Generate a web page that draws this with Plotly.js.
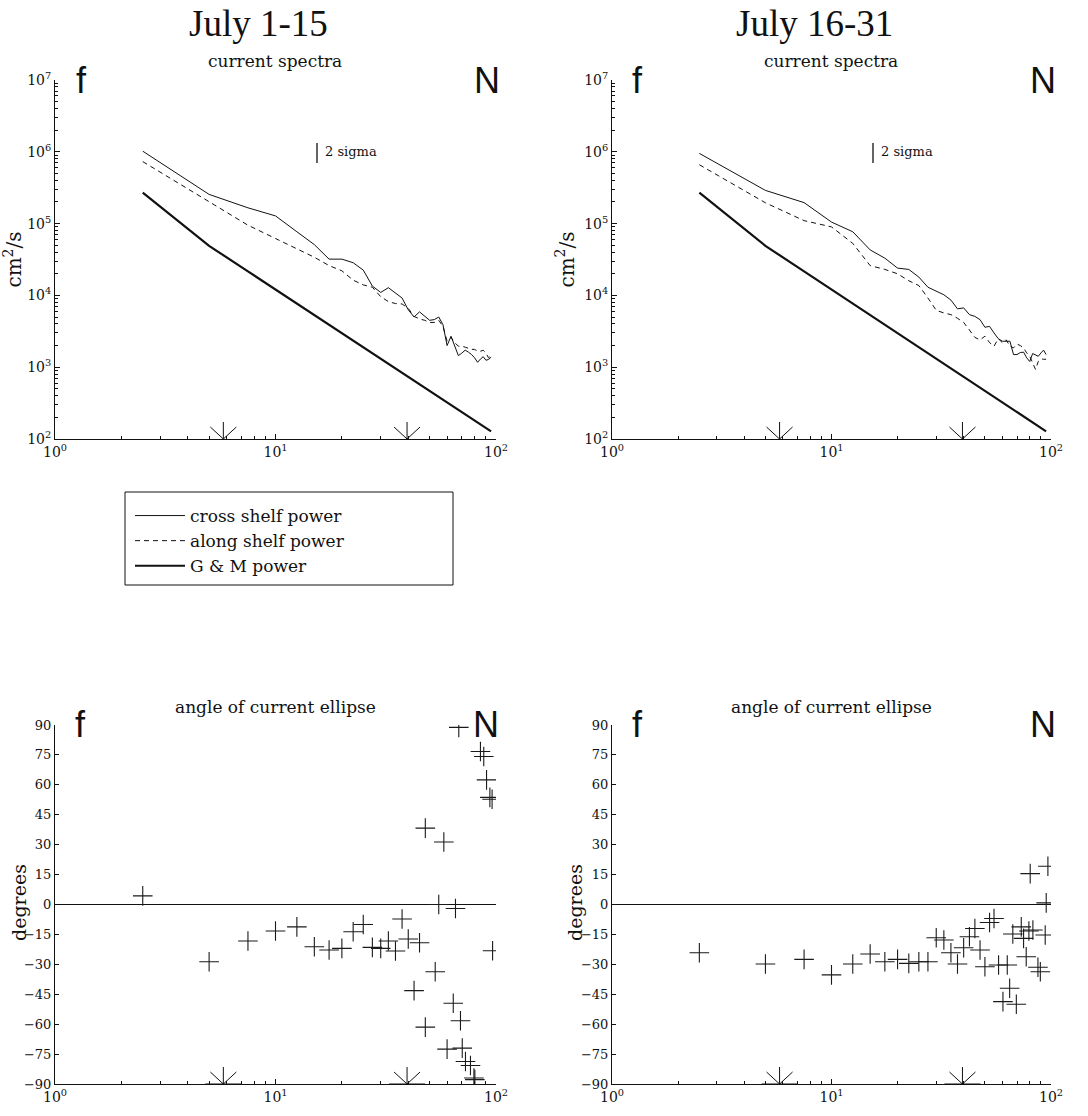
<!DOCTYPE html>
<html><head><meta charset="utf-8">
<script src="https://cdn.plot.ly/plotly-3.0.1.min.js"></script>
<style>html,body{margin:0;padding:0;background:#fff}#chart{width:1088px;height:1116px}</style>
</head><body><div id="chart"></div>
<script>
// ---------- data ----------
const freq = [2.5,5,7.5,10,12.5,15,17.5,20,22.5,25,27.5,30,32.5,35,37.5,40,42.5,45,47.5,50,
  52.5,55,57.5,60,62.5,65,67.5,70,72.5,75,77.5,80,82.5,85,87.5,90,92.5,95];

const crossJul1 = [1.02e6,2.55e5,1.66e5,1.28e5,7.7e4,5.1e4,3.2e4,3.2e4,2.85e4,2.25e4,
  1.35e4,1.1e4,1.28e4,1.07e4,9.2e3,6.3e3,5.0e3,5.9e3,5.1e3,4.5e3,
  4.6e3,5.0e3,3.9e3,2.0e3,2.7e3,1.95e3,1.45e3,1.57e3,1.73e3,1.62e3,
  1.5e3,1.35e3,1.17e3,1.3e3,1.4e3,1.25e3,1.28e3,1.38e3];
const alongJul1 = [7.3e5,2.0e5,9.5e4,6.2e4,4.5e4,3.4e4,2.6e4,2.2e4,1.63e4,1.4e4,
  1.3e4,9.6e3,8.2e3,7.7e3,7.6e3,6.6e3,5.1e3,4.7e3,4.5e3,4.2e3,
  4.2e3,4.5e3,3.7e3,2.3e3,2.6e3,2.2e3,1.96e3,1.96e3,1.9e3,1.85e3,
  1.77e3,1.77e3,1.67e3,1.67e3,1.72e3,1.58e3,1.35e3,1.45e3];
const crossJul16 = [9.5e5,2.9e5,1.96e5,1.05e5,7.7e4,4.3e4,3.3e4,2.4e4,2.3e4,1.8e4,
  1.3e4,1.13e4,1.02e4,8.6e3,6.5e3,6.7e3,5.4e3,5.1e3,4.6e3,3.6e3,
  3.7e3,3.0e3,2.5e3,2.3e3,2.3e3,2.3e3,1.5e3,1.5e3,1.6e3,1.62e3,
  1.35e3,1.2e3,1.55e3,1.5e3,1.42e3,1.58e3,1.73e3,1.5e3];
const alongJul16 = [6.6e5,1.95e5,1.1e5,9.0e4,5.3e4,2.6e4,2.3e4,2.0e4,1.6e4,1.37e4,
  9.2e3,6.2e3,5.7e3,5.4e3,4.8e3,4.2e3,3.3e3,2.6e3,2.4e3,2.7e3,
  2.2e3,1.96e3,2.5e3,2.2e3,2.4e3,1.96e3,1.86e3,2.1e3,2.0e3,1.86e3,
  1.58e3,1.42e3,1.15e3,9.3e2,1.2e3,1.3e3,1.29e3,1.29e3];

const gmFreq  = [2.5,5,7.5,10,15,20,30,40,50,60,70,80,95];
const gmPower = [2.7e5,4.9e4,2.16e4,1.21e4,5.3e3,2.98e3,1.31e3,735,468,325,237,181,128];

const angleFreqJul1 = [2.5,5,7.5,10,12.5,15,17.5,20,22.5,25,27.5,30,32.5,35,37.5,40,42.5,45,
  47.8,47.8,53,55,58,60,64,65.5,67.8,69,70.3,72.7,76.6,79.4,80.2,85,88,90.6,93.8,96,96.5];
const angleJul1 = [4.3,-28.7,-18.3,-13.3,-11.2,-21.2,-22.8,-22,-13.7,-10,-21.5,-22,-18.3,-23.3,-7.3,-17.3,-43.2,-19.2,
  38.3,-61.5,-33.7,0,31.3,-72.5,-49.5,-2,88.8,-58.3,-72,-78.7,-80.7,-87,-87.8,76.7,74.2,62.5,53.7,52.8,-23.2];

const angleFreqJul16 = [2.5,5,7.5,10,12.5,15,17.5,20,22.5,25,27.5,30,32.5,35,37.5,40,42.5,45,47.5,50,52.5,55,
  57.7,60.4,63.2,64.8,67.0,69.5,73.2,75.0,77.1,79.3,80.4,82.7,87.2,89.4,94.1,95.1,96.8];
const angleJul16 = [-24.2,-29.8,-27.5,-35.3,-29.8,-24.8,-28.7,-27.5,-29.5,-28.7,-28.7,-16.7,-17.8,-24.2,-29.8,-21.7,-16.2,-12,-22.8,-31.2,-9,-7,
  -30.3,-48.7,-30.3,-42,-14.8,-50,-11.2,-17,-26.2,-13.3,15.5,-12.8,-31.5,-33.7,-15.3,0.8,19.2];

const markFreqs = [5.8, 39.5];           // f and N arrows

const xTickVals = [1,10,100];
const xTickText = ['10<sup>0</sup>','10<sup>1</sup>','10<sup>2</sup>'];
const pTickVals = [1e2,1e3,1e4,1e5,1e6,1e7];
const pTickText = ['10<sup>2</sup>','10<sup>3</sup>','10<sup>4</sup>','10<sup>5</sup>','10<sup>6</sup>','10<sup>7</sup>'];
const degTicks = [-90,-75,-60,-45,-30,-15,0,15,30,45,60,75,90];

// ---------- style helpers ----------
const W = 1088, H = 1116;
const SERIF = 'DejaVu Serif, serif';
const INK = '#111';
function minorVals(lo, hi){ const v=[]; for(let d=lo; d<hi; d++){ for(let m=2;m<=9;m++) v.push(m*Math.pow(10,d)); } return v; }
const px = v => v / W, py = v => 1 - v / H;

function logX(domain, anchor){
  return {type:'log', range:[0,2], domain, anchor, tickmode:'array', tickvals:xTickVals, ticktext:xTickText,
    ticks:'inside', ticklen:5, tickwidth:1, tickcolor:INK, showline:true, linecolor:INK, linewidth:1,
    showgrid:false, zeroline:false, mirror:false, tickfont:{family:SERIF, size:14, color:INK},
    minor:{tickmode:'array', tickvals:minorVals(0,2), ticks:'inside', ticklen:3, tickcolor:INK, showgrid:false}};
}
function logY(domain, anchor){
  return {type:'log', range:[2,7], domain, anchor, tickmode:'array', tickvals:pTickVals, ticktext:pTickText,
    ticks:'inside', ticklen:5, tickwidth:1, tickcolor:INK, showline:true, linecolor:INK, linewidth:1,
    showgrid:false, zeroline:false, tickfont:{family:SERIF, size:14, color:INK},
    minor:{tickmode:'array', tickvals:minorVals(2,7), ticks:'inside', ticklen:3, tickcolor:INK, showgrid:false},
    title:{text:'cm<sup>2</sup>/s', font:{family:SERIF, size:20, color:INK}, standoff:4}};
}
function degY(domain, anchor){
  return {range:[-90,90], domain, anchor, tickmode:'array', tickvals:degTicks,
    ticks:'inside', ticklen:4, tickwidth:1, tickcolor:INK, showline:true, linecolor:INK, linewidth:1,
    showgrid:false, zeroline:true, zerolinecolor:INK, zerolinewidth:1, tickfont:{family:SERIF, size:13, color:INK}};
}

const dLeft  = [px(55), px(496)];
const dRight = [px(612), px(1051)];
const dTop   = [py(439), py(80)];
const dBot   = [py(1084), py(725)];

// ---------- traces ----------
const thin = {color:INK, width:1};
const dashed = {color:INK, width:1, dash:'5px,4px'};
const thick = {color:INK, width:2.2};
const cross = {symbol:'cross-thin-open', size:14, color:'#1a1a1a', line:{color:'#1a1a1a', width:1.1}};
const traces = [
  {x:freq, y:crossJul1, xaxis:'x', yaxis:'y', mode:'lines', line:thin, name:'cross shelf power'},
  {x:freq, y:alongJul1, xaxis:'x', yaxis:'y', mode:'lines', line:dashed, name:'along shelf power'},
  {x:gmFreq, y:gmPower, xaxis:'x', yaxis:'y', mode:'lines', line:thick, name:'G &amp; M power'},
  {x:freq, y:crossJul16, xaxis:'x2', yaxis:'y2', mode:'lines', line:thin, showlegend:false},
  {x:freq, y:alongJul16, xaxis:'x2', yaxis:'y2', mode:'lines', line:dashed, showlegend:false},
  {x:gmFreq, y:gmPower, xaxis:'x2', yaxis:'y2', mode:'lines', line:thick, showlegend:false},
  {x:angleFreqJul1, y:angleJul1, xaxis:'x3', yaxis:'y3', mode:'markers', showlegend:false, marker:cross},
  {x:angleFreqJul16, y:angleJul16, xaxis:'x4', yaxis:'y4', mode:'markers', showlegend:false, marker:cross}
];

// ---------- shapes ----------
const shapes = [];
[['x','y'],['x2','y2'],['x3','y3'],['x4','y4']].forEach(([xa,ya], i) => {
  markFreqs.forEach(f => shapes.push({type:'path', xref:xa, yref:ya+' domain', xsizemode:'pixel', ysizemode:'pixel',
    xanchor:f, yanchor:0,
    path: i < 2 ? 'M0,0L0,17M-13,12L0,0L13,12' : 'M-18,0L18,0M0,0L0,17M-13,12L0,0L13,12',
    line:{color:INK, width:1}}));
});
// 2 sigma bars
shapes.push({type:'line', xref:'paper', yref:'paper', x0:px(317), x1:px(317), y0:py(143), y1:py(163), line:{color:INK, width:1.3}});
shapes.push({type:'line', xref:'paper', yref:'paper', x0:px(873), x1:px(873), y0:py(143), y1:py(163), line:{color:INK, width:1.3}});
// legend box
shapes.push({type:'rect', xref:'paper', yref:'paper', x0:px(125), x1:px(453), y0:py(585), y1:py(492), line:{color:INK, width:1}});

// ---------- annotations ----------
function txt(text, x, y, size, family, xanchor){
  return {text, xref:'paper', yref:'paper', x:px(x), y:py(y), showarrow:false, xanchor:xanchor||'center', yanchor:'middle',
    font:{family:family||SERIF, size, color:INK}};
}
function vtxt(text, x, y, size){
  return Object.assign(txt(text, x, y, size), {textangle:-90});
}
const SANS = 'Liberation Sans, Arial, sans-serif';
const TITLE = 'Liberation Serif, serif';
const annotations = [
  txt('July 1-15', 258, 24, 37, TITLE),
  txt('July 16-31', 814, 24, 37, TITLE),
  txt('current spectra', 275, 61, 17),
  txt('current spectra', 831, 61, 17),
  txt('angle of current ellipse', 275, 707, 17),
  txt('angle of current ellipse', 831, 707, 17),
  txt('2 sigma', 323, 152, 13, SERIF, 'left'),
  txt('2 sigma', 879, 152, 13, SERIF, 'left'),
  vtxt('degrees', 19, 903, 19),
  vtxt('degrees', 575, 903, 19),
  txt('f', 81, 80, 36, SANS), txt('N', 487, 80, 36, SANS),
  txt('f', 637, 80, 36, SANS), txt('N', 1043, 80, 36, SANS),
  txt('f', 80, 724, 36, SANS), txt('N', 486, 724, 36, SANS),
  txt('f', 637, 724, 36, SANS), txt('N', 1043, 724, 36, SANS)
];

const layout = {
  width:W, height:H, margin:{l:0,r:0,t:0,b:0}, paper_bgcolor:'#fff', plot_bgcolor:'rgba(0,0,0,0)',
  font:{family:SERIF, color:INK},
  showlegend:true,
  legend:{x:px(130), y:py(498), xanchor:'left', yanchor:'top', bgcolor:'rgba(0,0,0,0)', borderwidth:0,
    font:{family:SERIF, size:17, color:INK}, itemwidth:50, tracegroupgap:0},
  xaxis: logX(dLeft, 'y'),  yaxis: logY(dTop, 'x'),
  xaxis2: logX(dRight, 'y2'), yaxis2: logY(dTop, 'x2'),
  xaxis3: logX(dLeft, 'y3'),  yaxis3: degY(dBot, 'x3'),
  xaxis4: logX(dRight, 'y4'), yaxis4: degY(dBot, 'x4'),
  shapes, annotations
};

Plotly.newPlot('chart', traces, layout, {displayModeBar:false, staticPlot:true});
</script></body></html>
